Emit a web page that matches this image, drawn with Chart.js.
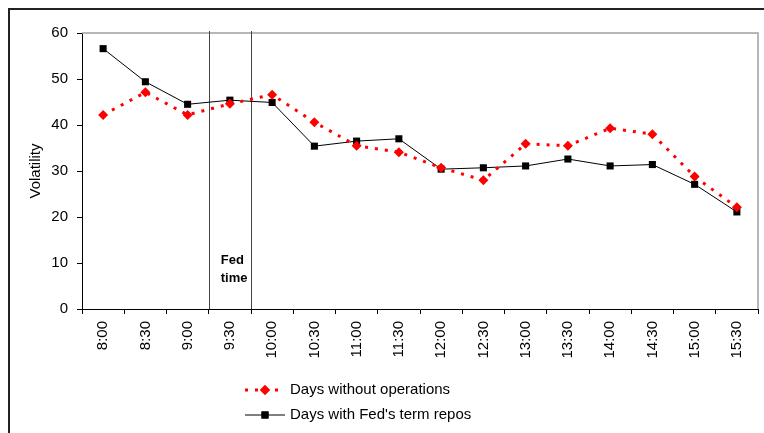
<!DOCTYPE html>
<html>
<head>
<meta charset="utf-8">
<script src="https://cdn.jsdelivr.net/npm/chart.js@4.4.0/dist/chart.umd.min.js"></script>
<style>
  body { margin: 0; background: #fff; }
  #wrap { position: relative; width: 764px; height: 433px; }
  #frame { position: absolute; left: 8px; top: 8px; right: 0; bottom: 0;
           border-top: 2px solid #222; border-left: 2px solid #222; pointer-events: none; }
</style>
</head>
<body>
<div id="wrap">
  <canvas id="myChart" width="764" height="433"></canvas>
  <div id="frame"></div>
</div>
<script>
const times = ["8:00", "8:30", "9:00", "9:30", "10:00", "10:30", "11:00", "11:30",
  "12:00", "12:30", "13:00", "13:30", "14:00", "14:30", "15:00", "15:30"];
const withoutOps = [42.2, 47.1, 42.2, 44.6, 46.6, 40.6, 35.5, 34.1,
  30.7, 28.0, 35.9, 35.5, 39.3, 38.0, 28.8, 22.1];
const withRepos = [56.6, 49.4, 44.5, 45.4, 44.9, 35.4, 36.5, 37.0,
  30.4, 30.7, 31.1, 32.6, 31.1, 31.4, 27.1, 21.1];
const fedWindow = ["9:00", "10:00"]; // lines sit halfway around 9:30

Chart.defaults.font.family = "'Liberation Sans', Arial, sans-serif";
Chart.defaults.font.size = 15;
Chart.defaults.color = "#000";

// plot frame, Fed lines and the two-row legend
const extras = {
  id: "extras",
  beforeDatasetsDraw(chart) {
    const { ctx, chartArea: a, scales } = chart;
    ctx.save();
    ctx.strokeStyle = "#a0a0a0";
    ctx.lineWidth = 1.5;
    ctx.beginPath();
    ctx.moveTo(a.left, a.top);
    ctx.lineTo(a.right, a.top);
    ctx.lineTo(a.right, a.bottom);
    ctx.stroke();

    const i0 = times.indexOf(fedWindow[0]);
    const i1 = times.indexOf(fedWindow[1]);
    ctx.strokeStyle = "#444";
    ctx.lineWidth = 1;
    [i0 + 0.5, i1 - 0.5].forEach((v) => {
      const x = Math.round(scales.x.getPixelForValue(v)) + 0.5;
      ctx.beginPath();
      ctx.moveTo(x, a.top - 2);
      ctx.lineTo(x, a.bottom);
      ctx.stroke();
    });
    ctx.fillStyle = "#000";
    ctx.font = "bold 13px 'Liberation Sans', Arial, sans-serif";
    ctx.textBaseline = "middle";
    ctx.textAlign = "left";
    const tx = scales.x.getPixelForValue(i0 + 0.5) + 12;
    ctx.fillText("Fed", tx, scales.y.getPixelForValue(10.6));
    ctx.fillText("time", tx, scales.y.getPixelForValue(6.6));
    ctx.restore();
  },
  afterDraw(chart) {
    const { ctx } = chart;
    ctx.save();
    chart.data.datasets.forEach((ds, i) => {
      const y = 390 + i * 25;
      ctx.strokeStyle = ds.borderColor;
      ctx.lineWidth = ds.borderWidth;
      ctx.setLineDash(ds.borderDash || []);
      ctx.beginPath();
      ctx.moveTo(245, y);
      ctx.lineTo(285, y);
      ctx.stroke();
      ctx.setLineDash([]);
      ctx.fillStyle = ds.pointBackgroundColor;
      Chart.helpers.drawPoint(ctx, { pointStyle: ds.pointStyle, radius: ds.pointRadius, rotation: 0, borderWidth: 0 }, 265, y);
      ctx.fill();
      ctx.fillStyle = "#000";
      ctx.font = "15px 'Liberation Sans', Arial, sans-serif";
      ctx.textBaseline = "middle";
      ctx.fillText(ds.label, 290, y);
    });
    ctx.restore();
  },
};

new Chart(document.getElementById("myChart"), {
  type: "line",
  data: {
    labels: times,
    datasets: [
      {
        label: "Days without operations",
        data: withoutOps,
        borderColor: "#ff0000",
        backgroundColor: "#ff0000",
        borderWidth: 3,
        borderDash: [3, 7],
        pointStyle: "rectRot",
        pointRadius: 5,
        pointBackgroundColor: "#ff0000",
        pointBorderWidth: 0,
        tension: 0,
      },
      {
        label: "Days with Fed's term repos",
        data: withRepos,
        borderColor: "#000",
        backgroundColor: "#000",
        borderWidth: 1,
        pointStyle: "rect",
        pointRadius: 5,
        pointBackgroundColor: "#000",
        pointBorderWidth: 0,
        tension: 0,
      },
    ],
  },
  options: {
    responsive: false,
    animation: false,
    layout: { padding: { top: 33, right: 6, left: 0, bottom: 0 } },
    plugins: {
      legend: { display: false },
      tooltip: { enabled: false },
    },
    scales: {
      x: {
        offset: true,
        grid: { offset: true, drawOnChartArea: false, color: "#000", tickLength: 5 },
        border: { color: "#000", width: 1 },
        ticks: { autoSkip: false, minRotation: 90, maxRotation: 90, padding: 7 },
        afterFit: (s) => { s.height = 124; },
      },
      y: {
        min: 0,
        max: 60,
        ticks: { stepSize: 10, padding: 9 },
        grid: { drawOnChartArea: false, color: "#000", tickLength: 5 },
        border: { color: "#000", width: 1 },
        title: { display: true, text: "Volatility", padding: { top: 27, bottom: 0 } },
        afterFit: (s) => { s.width = 82; },
      },
    },
  },
  plugins: [extras],
});
</script>
</body>
</html>
